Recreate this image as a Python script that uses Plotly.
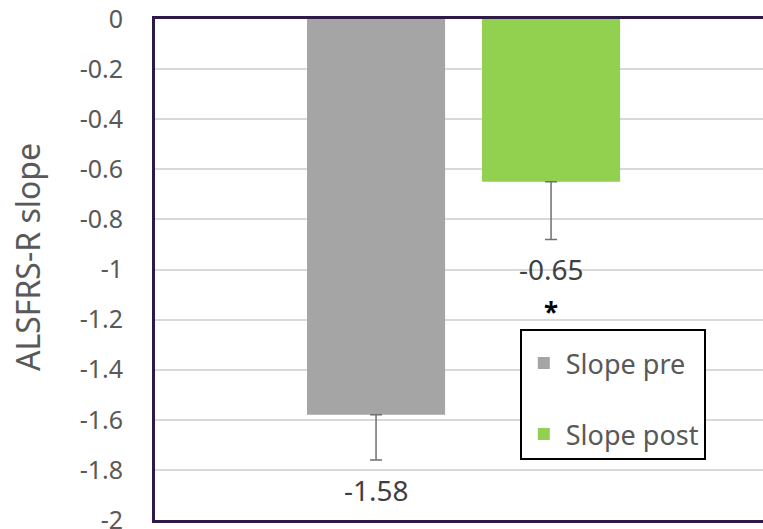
import plotly.graph_objects as go

categories = ["Slope pre", "Slope post"]
values = [-1.58, -0.65]
errors = [0.18, 0.23]
value_labels = ["-1.58", "-0.65"]
colors = ["#A5A5A5", "#92D050"]
y_ticks = [0, -0.2, -0.4, -0.6, -0.8, -1, -1.2, -1.4, -1.6, -1.8, -2]
y_title = "ALSFRS-R slope"

FONT = "Noto Sans"
TXT = "#595959"
AXIS = "#2E1A47"

fig = go.Figure()
for i, cat in enumerate(categories):
    fig.add_trace(go.Bar(
        x=[cat], y=[values[i]], name=cat,
        marker=dict(color=colors[i], line=dict(width=0)),
        error_y=dict(type="data", symmetric=False, array=[0], arrayminus=[errors[i]],
                     color="#707070", thickness=1.5, width=6),
        legendgroup=cat,
    ))
    fig.add_annotation(x=cat, y=values[i] - errors[i], text=value_labels[i],
                       showarrow=False, yanchor="top", yshift=-9,
                       font=dict(family=FONT, size=28, color="#404040"))

fig.add_annotation(x=categories[1], y=-1.17, text="<b>*</b>", showarrow=False,
                   font=dict(family=FONT, size=26, color="black"))

# y-axis title
fig.add_annotation(xref="paper", yref="paper", x=0, y=0.525, xshift=-127,
                   text=y_title, textangle=-90, showarrow=False,
                   xanchor="center", yanchor="middle",
                   font=dict(family=FONT, size=32, color=TXT))

fig.update_layout(
    width=763, height=529,
    margin=dict(l=155, r=0, t=19, b=9, autoexpand=False),
    plot_bgcolor="white", paper_bgcolor="white",
    barmode="overlay", bargap=0.211,
    font=dict(family=FONT, color=TXT),
    showlegend=True,
    legend=dict(x=0.6, y=0.381, xanchor="left", yanchor="top",
                bgcolor="white", bordercolor="black", borderwidth=2,
                font=dict(family=FONT, size=27, color=TXT),
                title=dict(text=" ", font=dict(size=6)),
                itemwidth=34,
                traceorder="grouped", tracegroupgap=33),
    xaxis=dict(type="category", range=[-1.263, 2.211], showticklabels=False,
               showgrid=False, zeroline=False, showline=True, mirror=True,
               linecolor=AXIS, linewidth=3, ticks="", automargin=False),
    yaxis=dict(range=[-2, 0], tickvals=y_ticks, ticktext=[f"{v:g}" for v in y_ticks],
               showgrid=True, gridcolor="#D9D9D9", gridwidth=1.5,
               zeroline=False, showline=True, linecolor=AXIS, linewidth=3,
               ticks="", ticklabelstandoff=24, ticklabeloverflow="allow",
               automargin=False,
               tickfont=dict(family=FONT, size=25, color=TXT)),
)

fig.write_html("out.html")
